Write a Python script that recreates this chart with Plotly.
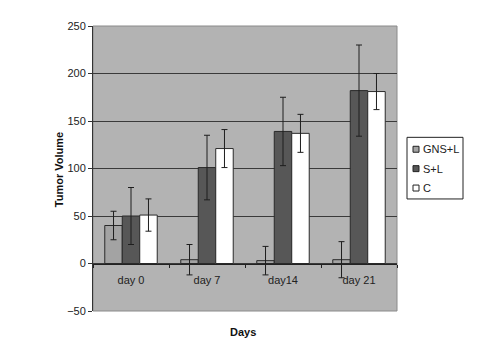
import plotly.graph_objects as go

categories = ["day 0", "day 7", "day14", "day 21"]
gns_l = [40, 4, 3, 4]
gns_l_err = [15, 16, 15, 19]
s_l = [50, 101, 139, 182]
s_l_err = [30, 34, 36, 48]
c_vals = [51, 121, 137, 181]
c_err = [17, 20, 20, 19]
series_names = ["GNS+L", "S+L", "C"]
y_ticks = [-50, 0, 50, 100, 150, 200, 250]

FONT = "Arial, Liberation Sans, sans-serif"
ERRC = "#1e1e1e"
colors = ["#a3a3a3", "#575757", "#ffffff"]

fig = go.Figure()
for name, vals, errs, color in zip(series_names, [gns_l, s_l, c_vals],
                                   [gns_l_err, s_l_err, c_err], colors):
    fig.add_trace(go.Bar(
        name=name, x=categories, y=vals, showlegend=False,
        marker=dict(color=color, line=dict(color="#2a2a2a", width=1)),
        error_y=dict(type="data", array=errs, visible=True, color=ERRC, thickness=1, width=3),
    ))

# plot area in window px: x 93..397, y 24..310.7 ; page body has 8px margin
PW, PH = 304.0, 286.7

def px(x):
    return (x - 93) / PW

def py(y):
    return (310.7 - y) / PH

shapes = [dict(type="rect", xref="paper", yref="paper", x0=0, x1=1, y0=0, y1=1,
               line=dict(color="#8a8a8a", width=1), layer="below")]
annotations = [
    dict(text="<b>Tumor Volume</b>", xref="paper", yref="paper", x=px(51), y=py(168),
         textangle=-90, showarrow=False, font=dict(family=FONT, size=11, color="#111111")),
    dict(text="<b>Days</b>", xref="paper", yref="paper", x=px(243), y=py(332),
         yanchor="middle", showarrow=False, font=dict(family=FONT, size=11, color="#111111")),
]
# legend box
shapes.append(dict(type="rect", xref="paper", yref="paper", x0=px(407), x1=px(463),
                   y0=py(198), y1=py(136), line=dict(color="#222222", width=1),
                   fillcolor="white"))
for i, (name, color) in enumerate(zip(series_names, colors)):
    yc = 148 + i * 19.5
    shapes.append(dict(type="rect", xref="paper", yref="paper",
                       x0=px(413), x1=px(419), y0=py(yc + 3), y1=py(yc - 3),
                       line=dict(color="#222222", width=1), fillcolor=color))
    annotations.append(dict(text=name, xref="paper", yref="paper", x=px(421), y=py(yc),
                            xanchor="left", yanchor="middle", showarrow=False,
                            font=dict(family=FONT, size=11, color="#222222")))

fig.update_layout(
    width=498, height=356,
    margin=dict(l=85, r=109, t=16, b=53),
    paper_bgcolor="white",
    plot_bgcolor="#b3b3b3",
    barmode="group",
    bargap=0.31,
    bargroupgap=0,
    font=dict(family=FONT, size=11, color="#222222"),
    showlegend=False,
    xaxis=dict(
        anchor="free", position=50 / 300,
        showline=True, linecolor="#222222", linewidth=1,
        ticks="outside", ticklen=3, tickcolor="#222222", tickson="boundaries",
        ticklabelstandoff=6,
        showgrid=False, tickfont=dict(family=FONT, size=11, color="#222222"),
    ),
    yaxis=dict(
        range=[-50, 250], tickvals=y_ticks, domain=[0, 1],
        showline=True, linecolor="#333333", linewidth=1,
        ticks="outside", ticklen=4, tickcolor="#333333",
        showgrid=True, gridcolor="#3a3a3a", gridwidth=1,
        zeroline=False,
        tickfont=dict(family=FONT, size=11, color="#222222"),
    ),
    shapes=shapes,
    annotations=annotations,
)

fig.write_html("out.html")
